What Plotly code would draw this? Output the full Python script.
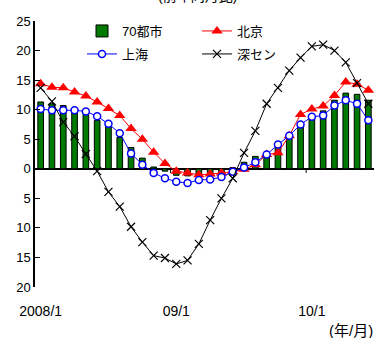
import plotly.graph_objects as go

months = [f"{y}/{m}" for y in (2008, 2009, 2010) for m in range(1, 13)][:30]
tick_vals = ["2008/1", "2009/1", "2010/1"]
tick_text = ["2008/1", "09/1", "10/1"]

cities70 = [11.3, 11.0, 10.7, 9.8, 9.2, 8.2, 7.4, 5.3, 3.6, 1.8,
            0.3, -0.4, -1.1, -1.2, -1.2, -1.1, -0.6, 0.2, 1.1, 2.1,
            2.4, 3.7, 5.8, 7.6, 8.7, 9.8, 11.6, 12.8, 12.6, 11.6]
beijing = [14.4, 13.8, 13.7, 13.0, 12.3, 11.3, 10.2, 9.0, 6.8, 5.0,
           2.8, 0.9, -0.4, -0.7, -1.0, -0.9, -0.7, -0.5, -0.1, 0.7,
           2.4, 2.7, 5.6, 9.2, 10.1, 10.6, 12.4, 14.7, 14.3, 13.3]
shanghai = [10.1, 9.9, 9.9, 9.9, 9.7, 8.9, 7.6, 6.0, 2.6, 0.7,
            -0.7, -1.6, -2.2, -2.4, -1.9, -1.8, -1.4, -0.5, 0.2, 1.1,
            2.4, 4.1, 5.6, 7.5, 8.8, 9.0, 10.7, 11.6, 11.0, 8.2]
shenzhen = [13.7, 11.4, 7.9, 5.5, 2.5, -0.4, -3.9, -6.4, -9.8, -12.4,
            -14.7, -15.1, -16.1, -15.5, -12.7, -8.7, -5.0, -1.6, 2.7, 6.4,
            11.0, 13.7, 16.6, 18.8, 20.7, 21.0, 20.0, 18.0, 14.5, 11.0]

y_ticks = [-20, -15, -10, -5, 0, 5, 10, 15, 20, 25]
y_tick_text = ["20", "15", "10", "5", "0", "5", "10", "15", "20", "25"]

FONT = "Liberation Sans, Arial, 'Noto Sans CJK JP', sans-serif"

W, H = 375, 338
ML, MR, MT, MB = 35, 1, 21, 51
PW, PH = W - ML - MR, H - MT - MB


def px_x(p):
    return (p - ML) / PW


def px_y(p):
    return 1 - (p - MT) / PH


fig = go.Figure()
fig.add_trace(go.Bar(x=months, y=cities70, name="70都市", width=0.5, legend="legend",
                     marker=dict(color="#007a00", line=dict(color="black", width=1))))
fig.add_trace(go.Scatter(x=months, y=beijing, name="北京", mode="lines+markers", legend="legend",
                         line=dict(color="#ff0000", width=1),
                         marker=dict(symbol="triangle-up", size=10, color="#ff0000")))
fig.add_trace(go.Scatter(x=months, y=shanghai, name="上海", mode="lines+markers", legend="legend2",
                         line=dict(color="#0000ff", width=1),
                         marker=dict(symbol="circle", size=7, color="white",
                                     line=dict(color="#0000ff", width=1.5))))
fig.add_trace(go.Scatter(x=months, y=shenzhen, name="深セン", mode="lines+markers", legend="legend2",
                         line=dict(color="black", width=1),
                         marker=dict(symbol="x-thin-open", size=8, color="black",
                                     line=dict(color="black", width=1.2))))

for b in (11.5, 23.5):
    fig.add_shape(type="line", xref="x", yref="y", x0=b, x1=b, y0=0, y1=-0.7,
                  line=dict(color="black", width=1))

legend_common = dict(orientation="h", xanchor="left", yanchor="middle",
                     entrywidth=70, entrywidthmode="pixels",
                     bgcolor="rgba(0,0,0,0)", font=dict(size=13),
                     traceorder="normal", itemwidth=30)

fig.update_layout(
    width=W, height=H,
    margin=dict(l=ML, r=MR, t=MT, b=MB),
    paper_bgcolor="white", plot_bgcolor="white",
    font=dict(family=FONT, size=13, color="black"),
    showlegend=True,
    legend=dict(x=px_x(82), y=px_y(31), **legend_common),
    legend2=dict(x=px_x(82), y=px_y(54), **legend_common),
    xaxis=dict(type="category", categoryorder="array", categoryarray=months,
               range=[-0.5, 29.5], tickvals=tick_vals, ticktext=tick_text,
               showline=False, ticks="", showgrid=False, zeroline=False,
               ticklabelstandoff=14, tickfont=dict(size=14)),
    yaxis=dict(range=[-20, 25], tickvals=y_ticks, ticktext=y_tick_text,
               showline=True, linecolor="black", linewidth=1.5,
               ticks="inside", ticklen=5, tickcolor="black",
               showgrid=False, zeroline=True, zerolinecolor="black",
               zerolinewidth=1.5, tickfont=dict(size=13)),
    annotations=[
        dict(text="(前年同月比)", xref="paper", yref="paper",
             x=px_x(197), y=px_y(6), xanchor="center",
             yanchor="bottom", showarrow=False, font=dict(size=14)),
        dict(text="(年/月)", xref="paper", yref="paper",
             x=px_x(327), y=px_y(330), xanchor="left",
             yanchor="middle", showarrow=False, font=dict(size=15)),
    ],
)

fig.write_html("out.html", config={"displayModeBar": False},
               post_script="document.body.style.margin='0';document.body.style.padding='0';")
